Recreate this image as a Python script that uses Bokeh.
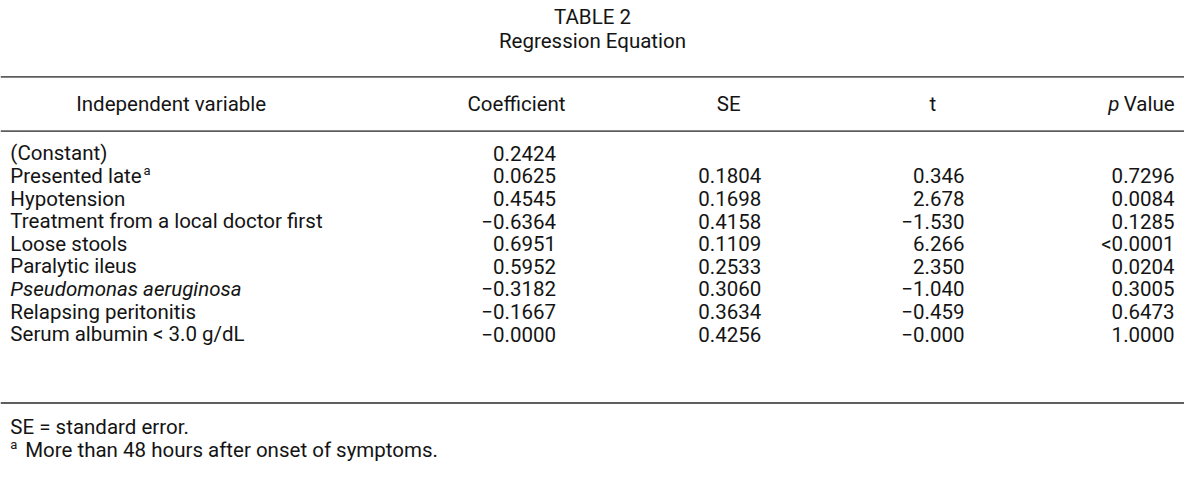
from bokeh.plotting import figure
from bokeh.models import Range1d, ColumnDataSource
from bokeh.core.properties import value
from bokeh.embed import file_html
from bokeh.resources import INLINE

# ---------------- data ----------------
title = "TABLE 2"
subtitle = "Regression Equation"
headers = ["Independent variable", "Coefficient", "SE", "t"]
p_header = ["p", "Value"]
variables = ["(Constant)", "Presented late", "Hypotension",
             "Treatment from a local doctor first", "Loose stools",
             "Paralytic ileus", "Pseudomonas aeruginosa",
             "Relapsing peritonitis", "Serum albumin < 3.0 g/dL"]
variable_style = ["normal", "normal", "normal", "normal", "normal",
                  "normal", "italic", "normal", "normal"]
coefficient = ["0.2424", "0.0625", "0.4545", "\u22120.6364", "0.6951",
               "0.5952", "\u22120.3182", "\u22120.1667", "\u22120.0000"]
se = ["", "0.1804", "0.1698", "0.4158", "0.1109", "0.2533", "0.3060",
      "0.3634", "0.4256"]
t_values = ["", "0.346", "2.678", "\u22121.530", "6.266", "2.350",
            "\u22121.040", "\u22120.459", "\u22120.000"]
p_values = ["", "0.7296", "0.0084", "0.1285", "<0.0001", "0.0204",
            "0.3005", "0.6473", "1.0000"]
footnote_marker = "a"
footnotes = ["SE = standard error.",
             "More than 48 hours after onset of symptoms."]

# ---------------- layout ----------------
FONT = value("Roboto")
FS = "20.5px"
FS_SUP = "13px"
INK = "#141414"
RULE = "#5e5e5e"

p = figure(width=1184, height=477, output_backend="svg", toolbar_location=None,
           x_range=Range1d(0, 1200), y_range=Range1d(493, 0),
           min_border=0, outline_line_color=None)
p.axis.visible = False
p.grid.visible = False

def txt(x, y, t, align="left", size=FS, style="normal"):
    p.text(x=x, y=y, text=t, text_font=FONT, text_font_size=size,
           text_font_style=style, text_align=align, text_baseline="middle",
           text_color=INK)

# title lines
txt([600, 600], [17, 42], [title, subtitle], align="center")

# rules
for yy in (79, 135, 416):
    p.segment(x0=[0], y0=[yy], x1=[1200], y1=[yy], line_color=RULE, line_width=1.8)

# headers
txt([173, 523, 738, 945], [107] * 4, headers, align="center")
txt([1134], [107], [p_header[0]], align="right", style="italic")
txt([1190], [107], [p_header[1]], align="right")

# body
row0, step = 158, 23.35
ys = [row0 + i * step for i in range(len(variables))]
src = ColumnDataSource(dict(y=ys, var=variables, style=variable_style,
                            coef=coefficient, se=se, t=t_values, pv=p_values))
p.text(x=10, y="y", text="var", source=src, text_font=FONT, text_font_size=FS,
       text_font_style="style", text_align="left", text_baseline="middle",
       text_color=INK)
for col, xr in (("coef", 563), ("se", 771), ("t", 977), ("pv", 1190)):
    p.text(x=xr, y="y", text=col, source=src, text_font=FONT, text_font_size=FS,
           text_align="right", text_baseline="middle", text_color=INK)

# superscript marker after "Presented late"
txt([145], [ys[1] - 6], [footnote_marker], size=FS_SUP)

# footnotes
txt([10], [441], [footnotes[0]])
txt([10], [459], [footnote_marker], size=FS_SUP)
txt([25], [465], [footnotes[1]])

open("out.html", "w").write(file_html(p, INLINE))
